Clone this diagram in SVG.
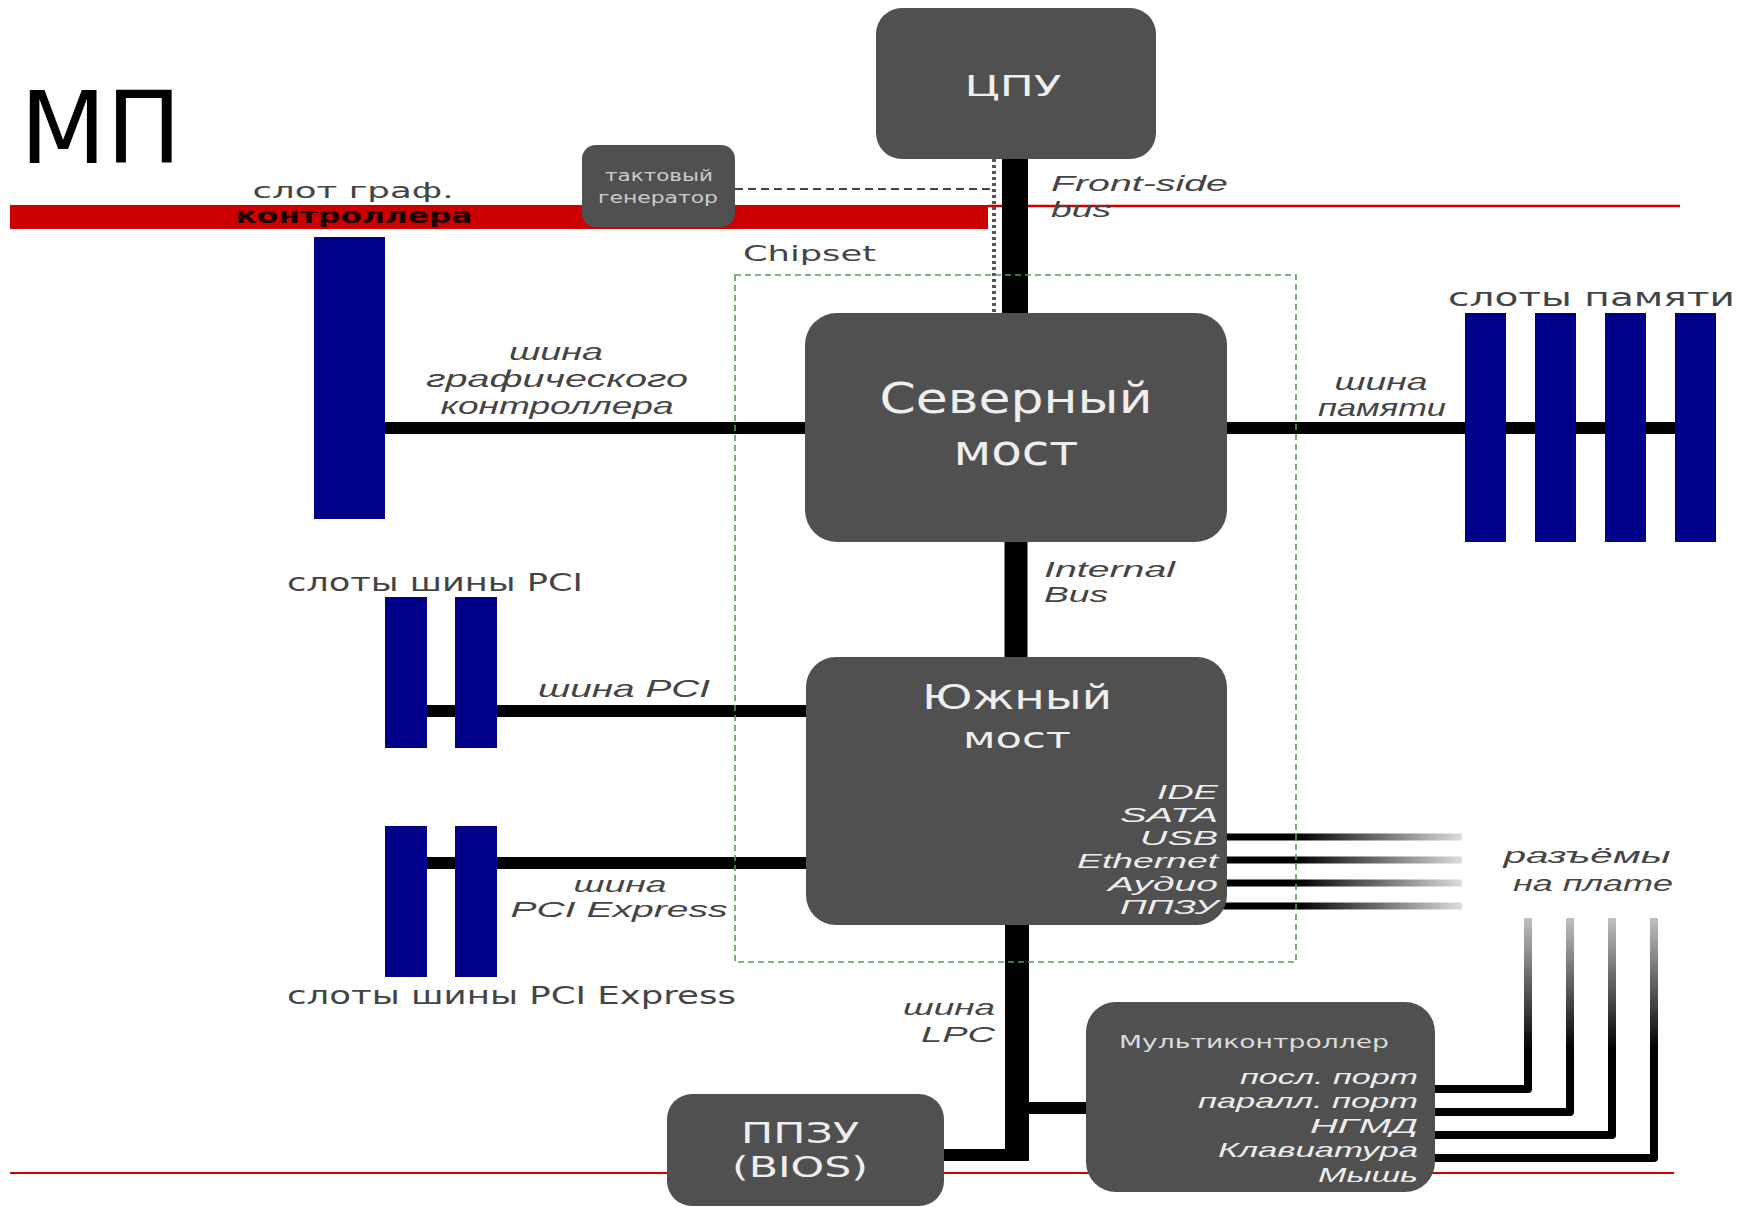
<svg xmlns="http://www.w3.org/2000/svg" width="1754" height="1207" viewBox="0 0 1754 1207">
<style>
.box{fill:#505050}
.slot{fill:#000088}
.bus{stroke:#000;fill:none}
.lbl{font-family:"DejaVu Sans","Liberation Sans",sans-serif;fill:#444}
.it{font-family:"Liberation Sans","DejaVu Sans",sans-serif;font-style:italic;fill:#444}
.wt{font-family:"DejaVu Sans","Liberation Sans",sans-serif;fill:#eeeeee}
.wi{font-family:"Liberation Sans","DejaVu Sans",sans-serif;font-style:italic;fill:#eeeeee}
.mid{text-anchor:middle}
.end{text-anchor:end}
</style>
<defs>
<linearGradient id="fadeR" gradientUnits="userSpaceOnUse" x1="1227" y1="0" x2="1462" y2="0">
<stop offset="0" stop-color="#000"/>
<stop offset="0.3" stop-color="#000"/>
<stop offset="1" stop-color="#dddddd"/>
</linearGradient>
<linearGradient id="fadeUp" gradientUnits="userSpaceOnUse" x1="0" y1="1050" x2="0" y2="918">
<stop offset="0" stop-color="#000"/>
<stop offset="1" stop-color="#c0c0c0"/>
</linearGradient>
</defs>
<rect width="1754" height="1207" fill="#fff"/>

<g id="annotations">
<rect x="10" y="205" width="978" height="24" fill="#cc0000"/>
<line x1="988" y1="206" x2="1680" y2="206" stroke="#cc0000" stroke-width="2.5"/>
<line x1="10" y1="1173" x2="1674" y2="1173" stroke="#cc0000" stroke-width="2"/>
<text x="20" y="163" font-family="DejaVu Sans, sans-serif" font-size="100" fill="#000">МП</text>
</g>

<g id="connectors">
<line class="bus" x1="1015" y1="158" x2="1015" y2="314" stroke-width="26"/>
<path d="M735 189 H990" stroke="#444" stroke-width="2" stroke-dasharray="8,5" fill="none"/>
<path d="M994 159 V313" stroke="#555" stroke-width="4" stroke-dasharray="3,3" fill="none"/>
<line class="bus" x1="370" y1="428" x2="806" y2="428" stroke-width="12"/>
<line class="bus" x1="1226" y1="428" x2="1690" y2="428" stroke-width="12"/>
<line class="bus" x1="1016" y1="541" x2="1016" y2="658" stroke-width="23"/>
<line class="bus" x1="400" y1="711" x2="807" y2="711" stroke-width="12"/>
<line class="bus" x1="400" y1="863" x2="807" y2="863" stroke-width="12"/>
<rect x="1005" y="924" width="24" height="237" fill="#000"/>
<rect x="940" y="1149" width="89" height="12" fill="#000"/>
<rect x="1017" y="1102" width="72" height="12" fill="#000"/>
<g stroke="url(#fadeR)" stroke-width="7" fill="none">
<line x1="1222" y1="837" x2="1462" y2="837"/>
<line x1="1222" y1="860" x2="1462" y2="860"/>
<line x1="1222" y1="883" x2="1462" y2="883"/>
<line x1="1222" y1="906" x2="1462" y2="906"/>
</g>
<g stroke="url(#fadeUp)" stroke-width="8" fill="none" stroke-linejoin="round">
<path d="M1428 1089 H1528 V918"/>
<path d="M1428 1112 H1570 V918"/>
<path d="M1428 1135 H1612 V918"/>
<path d="M1428 1158 H1654 V918"/>
</g>
</g>

<g id="chipset">
<rect x="735" y="275" width="561" height="687" fill="none" stroke="#5a9a5a" stroke-width="1.6" stroke-dasharray="6,4"/>
<text class="lbl" x="743" y="261" font-size="21" textLength="133" lengthAdjust="spacingAndGlyphs">Chipset</text>
</g>

<g id="cpu">
<rect class="box" x="876" y="8" width="280" height="151" rx="26"/>
<text class="wt mid" x="1013" y="96" font-size="29" textLength="97" lengthAdjust="spacingAndGlyphs">ЦПУ</text>
</g>

<g id="clock">
<rect class="box" x="582" y="145" width="153" height="82" rx="14"/>
<text class="wt mid" x="659" y="181" font-size="16" style="fill:#cccccc" textLength="108" lengthAdjust="spacingAndGlyphs">тактовый</text>
<text class="wt mid" x="658" y="203" font-size="16" style="fill:#cccccc" textLength="120" lengthAdjust="spacingAndGlyphs">генератор</text>
</g>

<g id="northbridge">
<rect class="box" x="805" y="313" width="422" height="229" rx="32"/>
<text class="wt mid" x="1016" y="413" font-size="42" textLength="273" lengthAdjust="spacingAndGlyphs">Северный</text>
<text class="wt mid" x="1016" y="465" font-size="42" textLength="125" lengthAdjust="spacingAndGlyphs">мост</text>
</g>

<g id="southbridge">
<rect class="box" x="806" y="657" width="421" height="268" rx="30"/>
<text class="wt mid" x="1017" y="709" font-size="34" textLength="190" lengthAdjust="spacingAndGlyphs">Южный</text>
<text class="wt mid" x="1017" y="748" font-size="29" textLength="108" lengthAdjust="spacingAndGlyphs">мост</text>
<text class="wi end" x="1218" y="799" font-size="21" textLength="61" lengthAdjust="spacingAndGlyphs">IDE</text>
<text class="wi end" x="1218" y="822" font-size="21" textLength="98" lengthAdjust="spacingAndGlyphs">SATA</text>
<text class="wi end" x="1218" y="845" font-size="21" textLength="78" lengthAdjust="spacingAndGlyphs">USB</text>
<text class="wi end" x="1218" y="868" font-size="21" textLength="141" lengthAdjust="spacingAndGlyphs">Ethernet</text>
<text class="wi end" x="1218" y="891" font-size="21" textLength="110" lengthAdjust="spacingAndGlyphs">Аудио</text>
<text class="wi end" x="1218" y="914" font-size="21" textLength="98" lengthAdjust="spacingAndGlyphs">ППЗУ</text>
</g>

<g id="bios">
<rect class="box" x="667" y="1094" width="277" height="112" rx="25"/>
<text class="wt mid" x="800" y="1143" font-size="29" textLength="118" lengthAdjust="spacingAndGlyphs">ППЗУ</text>
<text class="wt mid" x="800" y="1177" font-size="29" textLength="136" lengthAdjust="spacingAndGlyphs">(BIOS)</text>
</g>

<g id="multicontroller">
<rect class="box" x="1086" y="1002" width="349" height="190" rx="30"/>
<text class="wt" x="1119" y="1048" font-size="18" style="fill:#dddddd" textLength="270" lengthAdjust="spacingAndGlyphs">Мультиконтроллер</text>
<text class="wi end" x="1418" y="1084" font-size="21" textLength="178" lengthAdjust="spacingAndGlyphs">посл. порт</text>
<text class="wi end" x="1418" y="1108" font-size="21" textLength="220" lengthAdjust="spacingAndGlyphs">паралл. порт</text>
<text class="wi end" x="1418" y="1133" font-size="21" textLength="108" lengthAdjust="spacingAndGlyphs">НГМД</text>
<text class="wi end" x="1418" y="1157" font-size="21" textLength="200" lengthAdjust="spacingAndGlyphs">Клавиатура</text>
<text class="wi end" x="1418" y="1182" font-size="21" textLength="100" lengthAdjust="spacingAndGlyphs">Мышь</text>
</g>

<g id="graphics-slot">
<rect class="slot" x="314" y="237" width="71" height="282"/>
<text class="lbl mid" x="353" y="198" font-size="22" textLength="201" lengthAdjust="spacingAndGlyphs">слот граф.</text>
<text class="lbl mid" x="354" y="223" font-size="22" font-weight="bold" style="fill:#1a0000" textLength="237" lengthAdjust="spacingAndGlyphs">контроллера</text>
</g>

<g id="memory-slots">
<rect class="slot" x="1465" y="313" width="41" height="229"/>
<rect class="slot" x="1535" y="313" width="41" height="229"/>
<rect class="slot" x="1605" y="313" width="41" height="229"/>
<rect class="slot" x="1675" y="313" width="41" height="229"/>
<text class="lbl" x="1448" y="306" font-size="25" textLength="287" lengthAdjust="spacingAndGlyphs">слоты памяти</text>
</g>

<g id="pci-slots">
<rect class="slot" x="385" y="597" width="42" height="151"/>
<rect class="slot" x="455" y="597" width="42" height="151"/>
<text class="lbl" x="287" y="591" font-size="24" textLength="296" lengthAdjust="spacingAndGlyphs">слоты шины PCI</text>
</g>

<g id="pcie-slots">
<rect class="slot" x="385" y="826" width="42" height="151"/>
<rect class="slot" x="455" y="826" width="42" height="151"/>
<text class="lbl" x="287" y="1004" font-size="24" textLength="449" lengthAdjust="spacingAndGlyphs">слоты шины PCI Express</text>
</g>

<g id="bus-labels">
<text class="it" x="1051" y="191" font-size="22" textLength="177" lengthAdjust="spacingAndGlyphs">Front-side</text>
<text class="it" x="1051" y="217" font-size="22" textLength="60" lengthAdjust="spacingAndGlyphs">bus</text>
<text class="it mid" x="556" y="360" font-size="23" textLength="94" lengthAdjust="spacingAndGlyphs">шина</text>
<text class="it mid" x="557" y="387" font-size="23" textLength="262" lengthAdjust="spacingAndGlyphs">графического</text>
<text class="it mid" x="557" y="414" font-size="23" textLength="233" lengthAdjust="spacingAndGlyphs">контроллера</text>
<text class="it mid" x="1381" y="390" font-size="23" textLength="93" lengthAdjust="spacingAndGlyphs">шина</text>
<text class="it mid" x="1382" y="416" font-size="23" textLength="128" lengthAdjust="spacingAndGlyphs">памяти</text>
<text class="it" x="1044" y="577" font-size="22" textLength="131" lengthAdjust="spacingAndGlyphs">Internal</text>
<text class="it" x="1044" y="602" font-size="22" textLength="64" lengthAdjust="spacingAndGlyphs">Bus</text>
<text class="it" x="538" y="697" font-size="24" textLength="172" lengthAdjust="spacingAndGlyphs">шина PCI</text>
<text class="it mid" x="620" y="892" font-size="22" textLength="93" lengthAdjust="spacingAndGlyphs">шина</text>
<text class="it mid" x="619" y="917" font-size="22" textLength="217" lengthAdjust="spacingAndGlyphs">PCI Express</text>
<text class="it end" x="995" y="1015" font-size="22" textLength="92" lengthAdjust="spacingAndGlyphs">шина</text>
<text class="it end" x="995" y="1042" font-size="22" textLength="74" lengthAdjust="spacingAndGlyphs">LPC</text>
<text class="it mid" x="1587" y="863" font-size="22" textLength="167" lengthAdjust="spacingAndGlyphs">разъёмы</text>
<text class="it mid" x="1593" y="891" font-size="22" textLength="160" lengthAdjust="spacingAndGlyphs">на плате</text>
</g>
</svg>
